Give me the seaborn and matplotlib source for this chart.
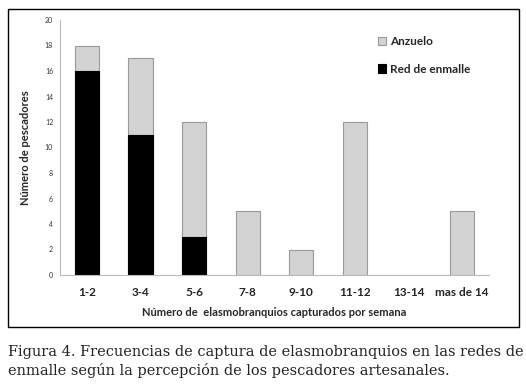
import matplotlib
matplotlib.use("Agg")
import matplotlib.pyplot as plt
import seaborn as sns
import pandas as pd
from matplotlib.patches import Rectangle

categories = ["1-2", "3-4", "5-6", "7-8", "9-10", "11-12", "13-14", "mas de 14"]
red_enmalle = [16, 11, 3, 0, 0, 0, 0, 0]
anzuelo = [2, 6, 9, 5, 2, 12, 0, 5]
totals = [r + a for r, a in zip(red_enmalle, anzuelo)]

df = pd.DataFrame({"cat": categories, "total": totals, "red": red_enmalle})

sns.set_style("white")
plt.rcParams["font.family"] = ["Lato", "DejaVu Sans"]

fig = plt.figure(figsize=(5.26, 3.85), dpi=100)
ax = fig.add_axes([60/526, 1-275/385, 429/526, 255/385])

sns.barplot(data=df, x="cat", y="total", order=categories, color="#d3d3d3",
            edgecolor="#9a9a9a", linewidth=0.8, width=0.45, ax=ax, saturation=1,
            label="Anzuelo")
sns.barplot(data=df, x="cat", y="red", order=categories, color="black",
            edgecolor="black", linewidth=0.8, width=0.45, ax=ax, saturation=1,
            label="Red de enmalle")

for p in ax.patches:
    if p.get_height() == 0:
        p.set_visible(False)

ax.set_xlim(-0.5, 7.5)
ax.set_ylim(0, 20)
ax.set_yticks(range(0, 21, 2))
ax.tick_params(axis="y", labelsize=5, length=2, color="#999999", pad=3, labelcolor="#333333")
ax.tick_params(axis="x", labelsize=8.5, length=0, pad=9)
for t in ax.get_xticklabels():
    t.set_fontweight("bold")
for s in ["top", "right"]:
    ax.spines[s].set_visible(False)
for s in ["left", "bottom"]:
    ax.spines[s].set_color("#bbbbbb")
    ax.spines[s].set_linewidth(0.8)

ax.set_xlabel("Número de  elasmobranquios capturados por semana", fontsize=8,
              fontweight="bold", labelpad=6)
ax.set_ylabel("Número de pescadores", fontsize=8, fontweight="bold", labelpad=10)

leg = ax.legend(loc="upper left", bbox_to_anchor=(0.73, 0.955), frameon=False,
                fontsize=8.5, handlelength=0.7, handleheight=0.7, handletextpad=0.3,
                labelspacing=1.4, borderaxespad=0)
for t in leg.get_texts():
    t.set_fontweight("bold")

fig.patches.append(Rectangle((8/526, 1-327/385), 511/526, 318/385,
                             transform=fig.transFigure, fill=False,
                             edgecolor="black", linewidth=1.0))

fig.text(8/526, 1-352/385, "Figura 4. Frecuencias de captura de elasmobranquios en las redes de",
         fontsize=10.45, family="DejaVu Serif", va="center", ha="left", color="#222222")
fig.text(8/526, 1-371/385, "enmalle según la percepción de los pescadores artesanales.",
         fontsize=10.45, family="DejaVu Serif", va="center", ha="left", color="#222222")

fig.savefig("out.png", dpi=100)
